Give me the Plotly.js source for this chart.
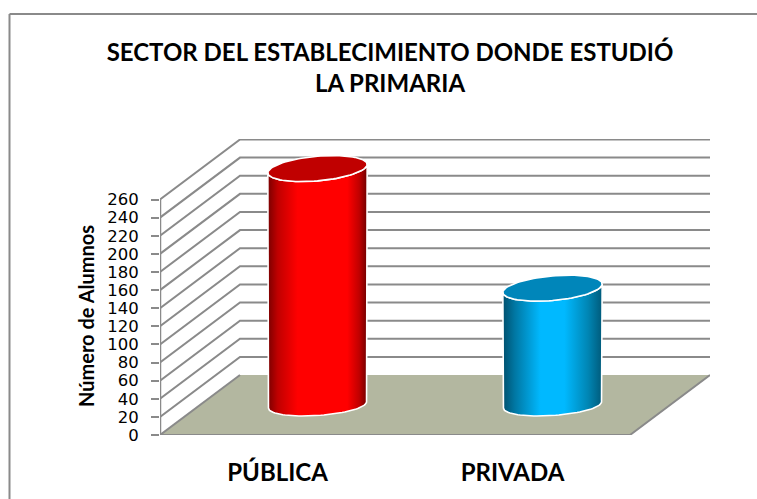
<!DOCTYPE html>
<html><head><meta charset="utf-8">
<script src="https://cdn.plot.ly/plotly-3.0.1.min.js"></script>
<style>html,body{margin:0;padding:0;background:#fff}#c{width:757px;height:499px}</style>
</head><body><div id="c"></div>
<script>
const categories = ["PÚBLICA", "PRIVADA"];
const alumnos = [261, 129];
const yTicks = [0,20,40,60,80,100,120,140,160,180,200,220,240,260];
const sideColors = [
  [[0,"#7a0000"],[0.1,"#c00000"],[0.3,"#ff0000"],[0.8,"#ff0000"],[0.92,"#c00000"],[1,"#700000"]],
  [[0,"#00506e"],[0.12,"#0077a3"],[0.38,"#00b9ff"],[0.62,"#00b9ff"],[0.86,"#0085b3"],[1,"#005a7a"]]
];
const topColors = ["#c00000", "#0086ba"];

const W=757,H=499,L=160,R=710,B=435,T=139;
const PX_PER_CAT=235, PX_PER_VAL=235.5/260;
const DX=80/PX_PER_CAT, DV=60/PX_PER_VAL;
const XMAX=(R-L)/PX_PER_CAT, YMAX=(B-T)/PX_PER_VAL;
const grey="#8a8a8a";
const proj=(u,v,d)=>[u+d*DX, v+d*DV];
const traces=[];
function poly(pts,opt){
  traces.push(Object.assign({type:"scatter",mode:"lines",x:pts.map(p=>p[0]),y:pts.map(p=>p[1]),
    hoverinfo:"skip",showlegend:false,cliponaxis:false},opt));
}
// floor
poly([proj(0,0,0),proj(2,0,0),proj(2,0,1),proj(0,0,1),proj(0,0,0)],
  {fill:"toself",fillcolor:"#b3b7a0",line:{width:0,color:"rgba(0,0,0,0)"}});
poly([proj(0,0,0),proj(2,0,0),proj(2,0,1)],{line:{color:grey,width:2}});
// walls
yTicks.forEach(v=>{
  if(v===0){ poly([proj(0,0,0),proj(0,0,1)],{line:{color:grey,width:2}}); return; }
  poly([proj(0,v,0),proj(0,v,1),proj(2,v,1)],{line:{color:grey,width:2}});
});
poly([proj(0,0,0),proj(0,260,0)],{line:{color:grey,width:2.5}});
// cylinders
const N=48, AX=47/PX_PER_CAT;
const TB={bx:14/PX_PER_CAT,by:11/PX_PER_VAL}, TT={bx:16/PX_PER_CAT,by:13/PX_PER_VAL};
categories.forEach((c,i)=>{
  const ctr=proj(i+0.5,0,0.5);
  const pt=(v,t,k)=>[ctr[0]+AX*Math.cos(t)+k.bx*Math.sin(t), ctr[1]+v+k.by*Math.sin(t)];
  const v=alumnos[i];
  const silh=k=>Math.atan2(k.bx,AX);
  const side=[];
  const t0=silh(TT);
  for(let j=0;j<=N;j++){ side.push(pt(v,t0-j/N*Math.PI,TT)); }
  const t1=silh(TB);
  for(let j=0;j<=N;j++){ side.push(pt(0,t1+Math.PI+j/N*Math.PI,TB)); }
  side.push(side[0]);
  poly(side,{fill:"toself",line:{color:"#ffffff",width:1.6},
    fillgradient:{type:"horizontal",colorscale:sideColors[i]},fillcolor:"rgba(0,0,0,0)"});
  const top=[];
  for(let j=0;j<=2*N;j++){ top.push(pt(v,j/N*Math.PI,TT)); }
  poly(top,{fill:"toself",fillcolor:topColors[i],line:{color:"#ffffff",width:1.6}});
});
const px=x=>(x-L)/(R-L), py=y=>(B-y)/(B-T);
const layout={
  width:W,height:H,paper_bgcolor:"#fff",plot_bgcolor:"rgba(0,0,0,0)",showlegend:false,
  margin:{l:L,r:W-R,t:T,b:H-B,pad:0},
  title:{text:"SECTOR DEL ESTABLECIMIENTO DONDE ESTUDIÓ<br>LA PRIMARIA",
    font:{family:"Lato",size:24,color:"#000",weight:700},
    x:px(390),xanchor:"center",y:1-61/H,yanchor:"top",xref:"paper",yref:"container"},
  xaxis:{range:[0,XMAX],showgrid:false,zeroline:false,showline:false,
    tickvals:categories.map((c,i)=>i+0.5),ticktext:categories,ticks:"",
    ticklabelstandoff:21,tickfont:{family:"Lato",size:24,color:"#000",weight:700},automargin:false},
  yaxis:{range:[0,YMAX],showgrid:false,zeroline:false,showline:false,
    tickvals:yTicks,ticks:"outside",ticklen:8,tickwidth:2,tickcolor:grey,ticklabelstandoff:9,
    tickfont:{family:"DejaVu Sans",size:16.5,color:"#000"},automargin:false},
  annotations:[{text:"Número de Alumnos",textangle:-90,xref:"paper",yref:"paper",
    x:px(86),y:py(316),xanchor:"center",yanchor:"middle",showarrow:false,
    font:{family:"Lato",size:20,color:"#000",weight:700}}],
  shapes:[
    {type:"line",xref:"paper",yref:"paper",x0:px(9.5),x1:px(757),y0:py(14),y1:py(14),line:{color:grey,width:2}},
    {type:"line",xref:"paper",yref:"paper",x0:px(9.5),x1:px(9.5),y0:py(14),y1:py(499),line:{color:grey,width:2}}
  ]
};
Plotly.newPlot("c",traces,layout,{displayModeBar:false,staticPlot:true});
</script></body></html>
